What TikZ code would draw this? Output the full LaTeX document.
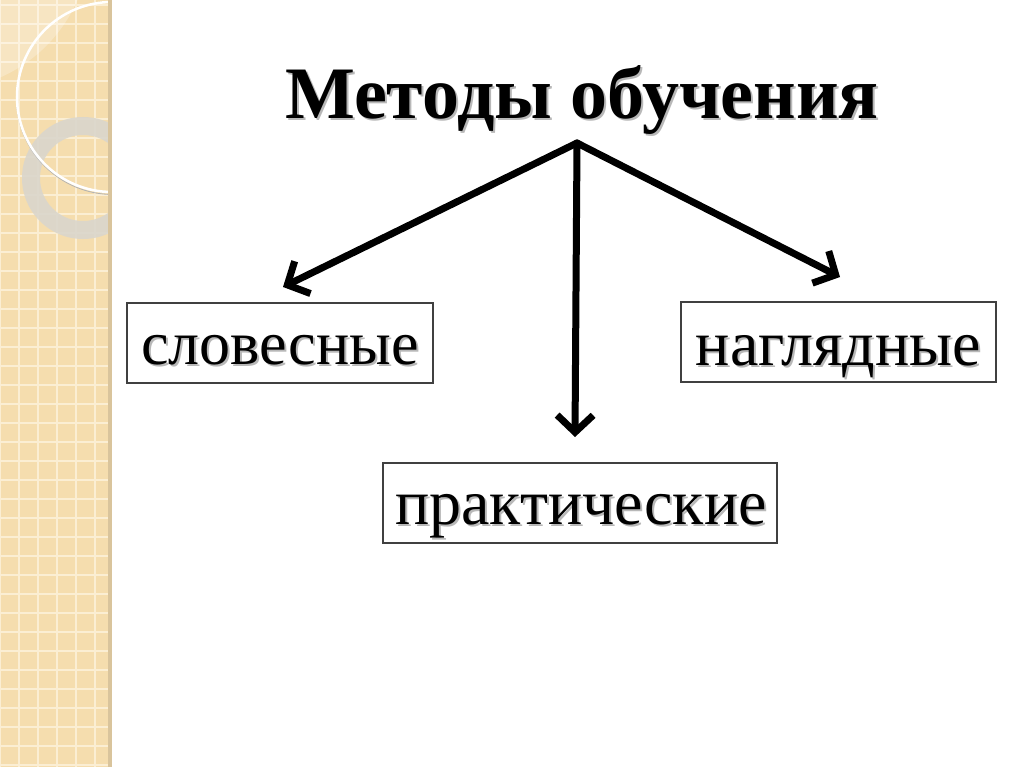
\documentclass[tikz,border=0pt]{standalone}
\usepackage{fontspec}
\setmainfont{Liberation Serif}
\usetikzlibrary{arrows.meta}
\definecolor{stripe}{HTML}{F5DDAE}
\definecolor{gridc}{HTML}{FBEED3}
\definecolor{edgec}{HTML}{D9C49C}
\definecolor{ringc}{HTML}{DAD6CC}
\definecolor{shadowc}{HTML}{B8B8B8}
\tikzset{
  box/.style={draw=black!75, line width=1.2pt, minimum height=80pt, inner sep=0pt},
  lbl/.style={font=\fontsize{64}{64}\selectfont},
  lbls/.style={font=\fontsize{62}{62}\selectfont},
  ttl/.style={font=\fontsize{74}{74}\selectfont\bfseries},
  arr/.style={line width=7pt, -{Straight Barb[length=17pt, width=36pt, line width=7pt]}, line cap=round},
}
\begin{document}
\begin{tikzpicture}[x=1pt,y=-1pt]
\useasboundingbox (0,0) rectangle (1024,767);
\fill[white] (0,0) rectangle (1024,767);
% decorative stripe
\fill[stripe] (0,0) rectangle (108,767);
\begin{scope}
\clip (0,0) rectangle (108,767);
\foreach \x in {0,19,...,108} \draw[gridc, line width=1.5pt] (\x,0) -- (\x,767);
\foreach \y in {5,24,...,767} \draw[gridc, line width=1.5pt] (0,\y) -- (108,\y);
\fill[white, opacity=0.25] (-60,-60) circle (150);
\fill[ringc, opacity=0.9, even odd rule] (83,178) circle (61) (83,178) circle (43);
\draw[black!30, line width=0.8pt] (113,98) circle (96.5);
\draw[white, line width=2.5pt] (112,97) circle (95);
\end{scope}
\fill[edgec] (108,0) rectangle (112,767);
% title
\node[ttl, text=shadowc, anchor=base] at (584,121) {Методы обучения};
\node[ttl, anchor=base] (title) at (582,119) {Методы обучения};
\coordinate (hub) at (577,143);
% boxes
\node[box, minimum width=306pt] (verbal) at (280,343) {};
\node[lbls, text=shadowc, anchor=base] at (282,366) {словесные};
\node[lbls, anchor=base] at (280,364) {словесные};
\node[box, minimum width=315pt] (visual) at (838.5,342) {};
\node[lbl, text=shadowc, anchor=base] at (840.5,367) {наглядные};
\node[lbl, anchor=base] at (838.5,365) {наглядные};
\node[box, minimum width=394pt] (practical) at (580,503) {};
\node[lbl, text=shadowc, anchor=base] at (583,526) {практические};
\node[lbl, anchor=base] at (581,524) {практические};
% arrows
\coordinate (tl) at (283,287);
\coordinate (tm) at (575,437);
\coordinate (tr) at (840,277);
\draw[arr] (hub) -- (tl);
\draw[arr] (hub) -- (tm);
\draw[arr] (hub) -- (tr);
\end{tikzpicture}
\end{document}
